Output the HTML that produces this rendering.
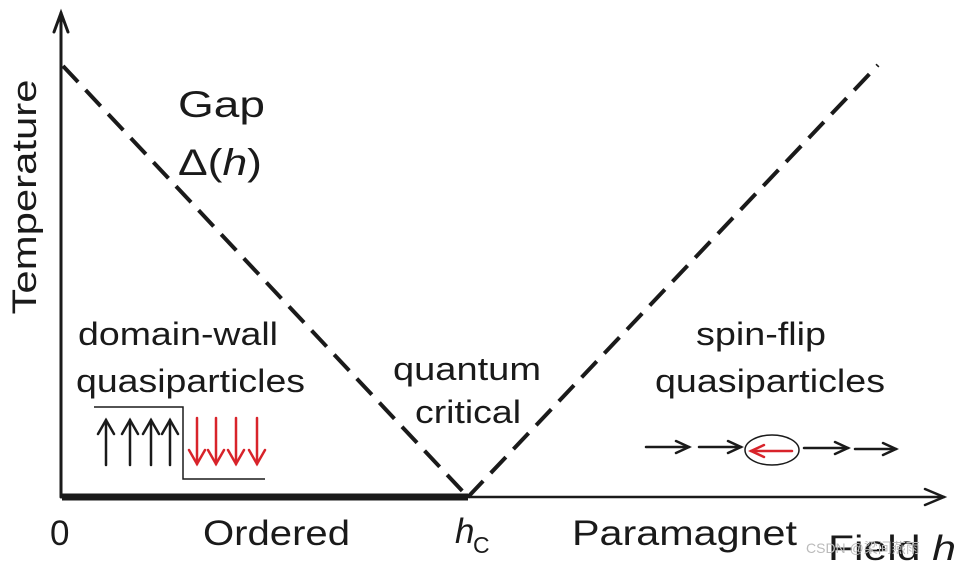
<!DOCTYPE html>
<html><head><meta charset="utf-8"><style>
html,body{margin:0;padding:0;background:#fff;width:956px;height:565px;overflow:hidden}
svg{display:block}
text{font-family:"Liberation Sans",Arial,sans-serif;fill:#1a1a1a}
</style></head><body>
<svg width="956" height="565" viewBox="0 0 956 565" xmlns="http://www.w3.org/2000/svg">
<g stroke="#1a1a1a" fill="none" stroke-linecap="round">
<line x1="61" y1="497" x2="61" y2="13" stroke-width="3"/>
<polyline points="54,32 61,13 68,32" stroke-width="3"/>
<line x1="61" y1="497" x2="944" y2="497" stroke-width="2.5"/>
<polyline points="925,489 944,497 925,505" stroke-width="2.5"/>
<line x1="62" y1="497" x2="468" y2="497" stroke-width="7" stroke-linecap="butt"/>
<line x1="63" y1="66" x2="468" y2="497" stroke-width="4" stroke-dasharray="22,11" stroke-linecap="butt"/>
<line x1="468" y1="497" x2="878" y2="65" stroke-width="4" stroke-dasharray="22,11" stroke-linecap="butt"/>
<polyline points="94,407 183,407 183,479 265,479" stroke-width="1.5" stroke-linecap="butt"/>
<g stroke-width="2.5">
<line x1="106" y1="465" x2="106" y2="420"/><polyline points="98,434 106,420 114,434"/>
<line x1="130" y1="465" x2="130" y2="420"/><polyline points="122,434 130,420 138,434"/>
<line x1="151" y1="465" x2="151" y2="420"/><polyline points="143,434 151,420 159,434"/>
<line x1="170" y1="465" x2="170" y2="420"/><polyline points="162,434 170,420 178,434"/>
</g>
<g stroke="#d8232a" stroke-width="2.5">
<line x1="197" y1="418" x2="197" y2="464"/><polyline points="189,450 197,464 205,450"/>
<line x1="216" y1="418" x2="216" y2="464"/><polyline points="208,450 216,464 224,450"/>
<line x1="236" y1="418" x2="236" y2="464"/><polyline points="228,450 236,464 244,450"/>
<line x1="257" y1="418" x2="257" y2="464"/><polyline points="249,450 257,464 265,450"/>
</g>
<g stroke-width="2.5">
<line x1="646" y1="447" x2="689" y2="447"/><polyline points="676,441 689,447 676,453"/>
<line x1="699" y1="447" x2="741" y2="447"/><polyline points="728,441 741,447 728,453"/>
<line x1="804" y1="448" x2="848" y2="448"/><polyline points="835,442 848,448 835,454"/>
<line x1="855" y1="449" x2="896" y2="449"/><polyline points="883,443 896,449 883,455"/>
</g>
<ellipse cx="772" cy="450" rx="27" ry="15" stroke-width="1.5"/>
<g stroke="#d8232a" stroke-width="2.5">
<line x1="792" y1="451" x2="751" y2="451"/><polyline points="764,445 751,451 764,457"/>
</g>
</g>
<text x="36" y="197" font-size="34" text-anchor="middle" textLength="235" lengthAdjust="spacingAndGlyphs" transform="rotate(-90 36 197)">Temperature</text>
<text x="178" y="117" font-size="37" textLength="87" lengthAdjust="spacingAndGlyphs">Gap</text>
<text x="178" y="175" font-size="37" textLength="84" lengthAdjust="spacingAndGlyphs">Δ(<tspan font-style="italic">h</tspan>)</text>
<text x="78" y="345" font-size="32" textLength="200" lengthAdjust="spacingAndGlyphs">domain-wall</text>
<text x="76" y="392" font-size="32" textLength="229" lengthAdjust="spacingAndGlyphs">quasiparticles</text>
<text x="393" y="380" font-size="32" textLength="148" lengthAdjust="spacingAndGlyphs">quantum</text>
<text x="415" y="423" font-size="32" textLength="106" lengthAdjust="spacingAndGlyphs">critical</text>
<text x="696" y="345" font-size="32" textLength="130" lengthAdjust="spacingAndGlyphs">spin-flip</text>
<text x="655" y="392" font-size="32" textLength="230" lengthAdjust="spacingAndGlyphs">quasiparticles</text>
<text x="50" y="545" font-size="35">0</text>
<text x="203" y="545" font-size="35" textLength="147" lengthAdjust="spacingAndGlyphs">Ordered</text>
<text x="455" y="543" font-size="35" font-style="italic">h</text>
<text x="473" y="553" font-size="23">C</text>
<text x="572" y="545" font-size="35" textLength="225" lengthAdjust="spacingAndGlyphs">Paramagnet</text>
<text x="828" y="560" font-size="35" textLength="128" lengthAdjust="spacingAndGlyphs">Field <tspan font-style="italic">h</tspan></text>
<text x="806" y="553" font-size="14" style="fill:#bbb">CSDN @梁间燕雨</text>
</svg>
</body></html>
